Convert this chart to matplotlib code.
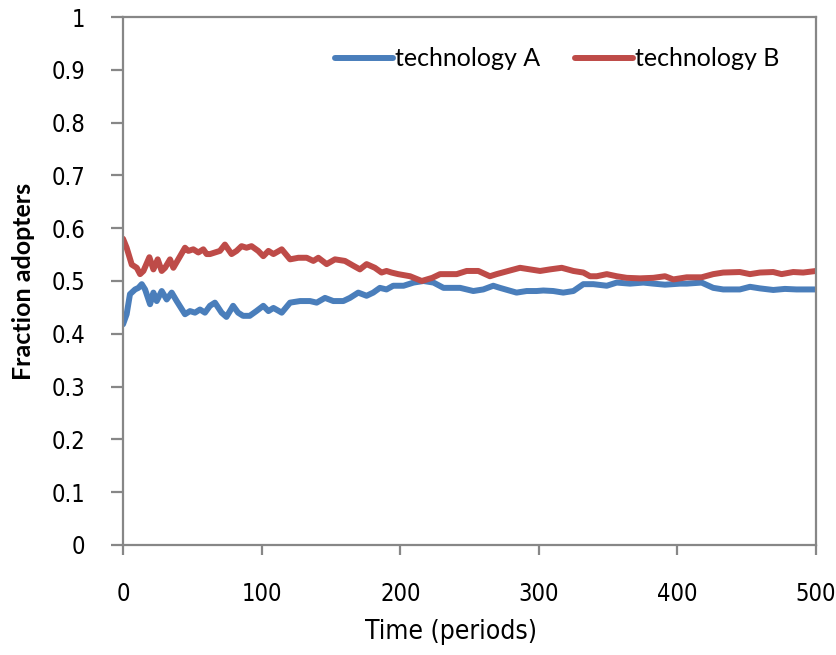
import matplotlib
matplotlib.use("Agg")
import matplotlib.pyplot as plt

# adoption share of each technology over time
time_a = [0, 2.6, 5, 8.7, 11.1, 13.5, 15.9, 19.5, 21.9, 24.3, 27.9, 31.5, 35.1, 38.7, 44.7,
          48.3, 51.9, 55.5, 59.1, 62.7, 66.3, 71.1, 74.6, 79.4, 83, 86.6, 91.4, 96.2, 101.2,
          104.9, 108.5, 114.5, 120.5, 127.7, 134.9, 139.7, 145.7, 151.7, 158.9, 163.7, 169.7,
          175.7, 180.5, 185.3, 190.1, 194.9, 202.4, 209.6, 216.8, 224, 231.2, 243.2, 252.7,
          259.9, 267.1, 271.9, 283.9, 291.2, 298.4, 303.2, 310.4, 317.6, 324.9, 332.1, 339.3,
          349, 356.2, 365.8, 375.4, 382.6, 391, 401.9, 406.7, 417.4, 425.8, 433, 445, 452.3,
          459.5, 469.1, 477.5, 485.9, 500]
share_a = [0.418, 0.437, 0.475, 0.484, 0.487, 0.494, 0.484, 0.456, 0.478, 0.462, 0.481, 0.465,
           0.478, 0.462, 0.437, 0.443, 0.440, 0.446, 0.440, 0.453, 0.459, 0.440, 0.432, 0.453,
           0.440, 0.434, 0.434, 0.443, 0.453, 0.443, 0.449, 0.440, 0.459, 0.462, 0.462, 0.459,
           0.468, 0.462, 0.462, 0.468, 0.478, 0.472, 0.478, 0.487, 0.484, 0.491, 0.491, 0.497,
           0.500, 0.497, 0.487, 0.487, 0.481, 0.484, 0.491, 0.487, 0.478, 0.481, 0.481, 0.482,
           0.481, 0.478, 0.481, 0.494, 0.494, 0.491, 0.497, 0.495, 0.497, 0.495, 0.493, 0.495,
           0.495, 0.497, 0.487, 0.484, 0.484, 0.489, 0.486, 0.483, 0.485, 0.484, 0.484]

time_b = [0, 2.6, 6.3, 9.9, 12.3, 14.7, 19, 21.9, 25, 27.9, 30.3, 33.9, 36.3, 44.7, 47.1,
          50.7, 54.3, 57.9, 60.3, 62.7, 66.3, 69.9, 73.5, 78.3, 81.9, 85.5, 89.1, 92.7, 97.5,
          101.2, 104.9, 108.5, 114.5, 120.5, 126.5, 132.5, 137.3, 140.9, 146.9, 152.9, 160.1,
          166.1, 170.9, 175.7, 181.7, 186.5, 190.1, 193.7, 198.5, 207.1, 215.5, 223.1, 228.7,
          240.7, 247.9, 256.3, 264.7, 269.5, 277.9, 286.4, 293.6, 300.9, 308.1, 316.5, 324.9,
          332.1, 336.9, 341.8, 349, 356.2, 363.4, 373, 382.6, 391, 397, 406.7, 417.4, 425.8,
          433, 445, 452.3, 459.5, 469.1, 475.1, 483.5, 490.7, 500]
share_b = [0.580, 0.563, 0.531, 0.525, 0.513, 0.519, 0.545, 0.522, 0.541, 0.519, 0.525, 0.541,
           0.525, 0.563, 0.557, 0.560, 0.554, 0.560, 0.551, 0.551, 0.554, 0.557, 0.569, 0.551,
           0.557, 0.566, 0.563, 0.566, 0.557, 0.547, 0.557, 0.551, 0.560, 0.541, 0.544, 0.544,
           0.538, 0.544, 0.532, 0.541, 0.538, 0.529, 0.522, 0.532, 0.525, 0.516, 0.519, 0.516,
           0.513, 0.509, 0.500, 0.506, 0.513, 0.513, 0.519, 0.519, 0.509, 0.513, 0.519, 0.525,
           0.522, 0.519, 0.522, 0.525, 0.519, 0.516, 0.509, 0.509, 0.513, 0.509, 0.506, 0.505,
           0.506, 0.509, 0.503, 0.507, 0.507, 0.513, 0.516, 0.517, 0.513, 0.516, 0.517, 0.513,
           0.517, 0.516, 0.519]

x_ticks = [0, 100, 200, 300, 400, 500]
y_ticks = [0, 0.1, 0.2, 0.3, 0.4, 0.5, 0.6, 0.7, 0.8, 0.9, 1]

blue = '#4A7EBB'
red = '#BE4B48'
grey = '#878787'
narrow = dict(family='DejaVu Sans', stretch='condensed')
calibri_like = ['Lato', 'DejaVu Sans']

fig = plt.figure(figsize=(8.37, 6.55), dpi=100)
ax = fig.add_axes([0.147, 0.168, 0.828, 0.806])

ax.plot(time_a, share_a, color=blue, lw=4.3, solid_capstyle='round', label='technology A')
ax.plot(time_b, share_b, color=red, lw=4.3, solid_capstyle='round', label='technology B')

ax.set_xlim(0, 500)
ax.set_ylim(0, 1)
ax.set_xticks(x_ticks)
ax.set_xticklabels([str(t) for t in x_ticks], fontsize=17, **narrow)
ax.set_yticks(y_ticks)
ax.set_yticklabels(['%g' % t for t in y_ticks], fontsize=17, **narrow)

for s in ax.spines.values():
    s.set_color(grey)
    s.set_linewidth(1.6)
ax.tick_params(axis='y', length=9, width=1.6, color=grey, pad=18)
ax.tick_params(axis='x', length=7, width=1.6, color=grey, pad=20)

ax.set_xlabel('Time (periods)', fontsize=19, labelpad=9, x=0.473, **narrow)
ax.set_ylabel('Fraction adopters', family=calibri_like, fontweight='bold',
              fontsize=18, labelpad=12)

ax.legend(loc='upper right', bbox_to_anchor=(0.98, 0.985), ncol=2, frameon=False,
          prop={'family': calibri_like, 'size': 18}, handlelength=2.3,
          handletextpad=0.1, columnspacing=1.4)

fig.savefig('out.png', dpi=100)
